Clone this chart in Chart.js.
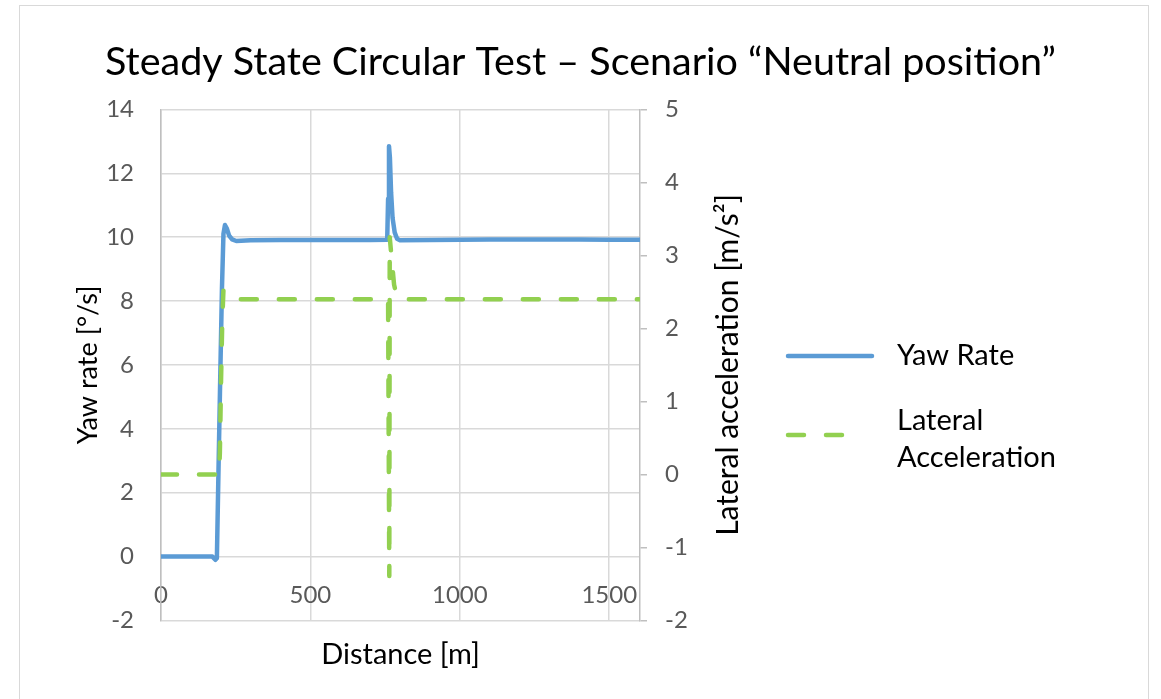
<!DOCTYPE html>
<html>
<head>
<meta charset="utf-8">
<script src="https://cdn.jsdelivr.net/npm/chart.js@4/dist/chart.umd.min.js"></script>
<style>
  html, body { margin: 0; padding: 0; background: #fff; }
  #wrap { position: relative; width: 1161px; height: 699px; overflow: hidden; }
  #frame { position: absolute; left: 19px; top: 5px; width: 1130px; height: 720px; border: 1.5px solid #d9d9d9; box-sizing: border-box; }
  canvas { position: absolute; left: 0; top: 0; }
</style>
</head>
<body>
<div id="wrap">
  <div id="frame"></div>
  <canvas id="chart" width="1161" height="699"></canvas>
</div>
<script>
// Yaw rate [°/s] against distance [m] (left axis)
const yawDistance = [0, 172, 182, 187, 192, 198, 204, 209, 214, 220, 228, 238, 252, 300, 400, 500, 600, 700, 757,
  760, 763, 766, 770, 775, 782, 790, 800, 900, 1000, 1100, 1200, 1300, 1400, 1500, 1603];
const yawRate = [0, 0, -0.1, -0.05, 2.5, 5.5, 8.4, 10.1, 10.38, 10.28, 10.05, 9.93, 9.88, 9.9, 9.91, 9.91, 9.91, 9.91, 9.92,
  11.2, 12.85, 12.5, 11.4, 10.6, 10.15, 9.95, 9.9, 9.91, 9.92, 9.93, 9.93, 9.93, 9.93, 9.92, 9.92];

// Lateral acceleration [m/s²] against distance [m] (right axis)
const latDistance = [0, 190, 194, 197, 201, 205, 209, 215, 225, 240, 250, 400, 600, 760, 764, 765.5, 772, 780, 788, 796,
  900, 1100, 1300, 1500, 1603];
const latAccel = [0, 0, -0.02, 0.3, 1.3, 2.1, 2.53, 2.5, 2.45, 2.41, 2.4, 2.4, 2.4, 2.4, -1.39, 3.25, 2.95, 2.6, 2.45, 2.4,
  2.4, 2.4, 2.4, 2.4, 2.4];

const xTicks = [0, 500, 1000, 1500];
const yTicks = [-2, 0, 2, 4, 6, 8, 10, 12, 14];
const y2Ticks = [-2, -1, 0, 1, 2, 3, 4, 5];

const seriesNames = ['Yaw Rate', 'Lateral Acceleration'];
const legendLines = [['Yaw Rate'], ['Lateral', 'Acceleration']];
const chartTitle = 'Steady State Circular Test \u2013 Scenario \u201cNeutral position\u201d';
const xTitle = 'Distance [m]';
const yTitle = 'Yaw rate [\u00b0/s]';
const y2Title = 'Lateral acceleration [m/s\u00b2]';

const toPoints = (xs, ys) => xs.map((x, i) => ({ x: x, y: ys[i] }));
const fixTicks = (list) => (scale) => { scale.ticks = list.map(v => ({ value: v })); };

const tickColor = '#595959';
const gridColor = '#d9d9d9';
const axisColor = '#bfbfbf';
const labelFont = { family: 'Lato', size: 24 };

// right axis title (reads bottom to top) and the legend
const extras = {
  id: 'extras',
  afterDraw(chart) {
    const ctx = chart.ctx;
    const area = chart.chartArea;
    ctx.save();
    ctx.fillStyle = '#000';
    ctx.font = '30px Lato';
    ctx.textAlign = 'center';
    ctx.textBaseline = 'middle';
    ctx.translate(area.right + 88, (area.top + area.bottom) / 2);
    ctx.rotate(-Math.PI / 2);
    ctx.fillText(y2Title, 0, 0);
    ctx.restore();

    const rows = [356, 435];
    chart.data.datasets.forEach((ds, i) => {
      const y = rows[i];
      const x0 = area.right + 148;
      ctx.save();
      ctx.strokeStyle = ds.borderColor;
      ctx.lineWidth = ds.borderWidth;
      ctx.lineCap = 'round';
      ctx.setLineDash(ds.borderDash || []);
      ctx.beginPath();
      ctx.moveTo(x0, y);
      ctx.lineTo(x0 + (ds.borderDash ? 62 : 84), y);
      ctx.stroke();
      ctx.restore();

      ctx.save();
      ctx.fillStyle = '#000';
      ctx.font = '29px Lato';
      ctx.textAlign = 'left';
      ctx.textBaseline = 'middle';
      const lines = legendLines[i];
      const lh = 37;
      const mid = y + (lines.length > 1 ? 4 : 0);
      lines.forEach((t, j) => {
        ctx.fillText(t, x0 + 109, mid + (j - (lines.length - 1) / 2) * lh);
      });
      ctx.restore();
    });
  }
};

new Chart(document.getElementById('chart'), {
  type: 'line',
  data: {
    datasets: [{
      label: seriesNames[0],
      data: toPoints(yawDistance, yawRate),
      yAxisID: 'y',
      borderColor: '#5b9bd5',
      borderWidth: 4.5,
      borderCapStyle: 'round',
      borderJoinStyle: 'round',
      pointRadius: 0,
      tension: 0,
      order: 1
    }, {
      label: seriesNames[1],
      data: toPoints(latDistance, latAccel),
      yAxisID: 'y2',
      borderColor: '#92d050',
      borderWidth: 4.5,
      borderDash: [16, 22],
      borderCapStyle: 'round',
      borderJoinStyle: 'round',
      pointRadius: 0,
      tension: 0,
      order: 0
    }]
  },
  options: {
    responsive: false,
    animation: false,
    layout: { padding: 0 },
    plugins: {
      legend: { display: false },
      tooltip: { enabled: false },
      title: {
        display: true,
        text: chartTitle,
        color: '#000',
        font: { family: 'Lato', size: 39.5, weight: 'normal' },
        padding: { top: 39, bottom: 23 }
      }
    },
    scales: {
      x: {
        type: 'linear',
        position: 'bottom',
        min: 0,
        max: 1603,
        afterBuildTicks: fixTicks(xTicks),
        afterFit: (s) => { s.height = 78.5; },
        ticks: {
          autoSkip: false,
          // labels sit inside the plot, just below the 0 line, as in the original
          mirror: true,
          padding: 11,
          maxRotation: 0,
          color: tickColor,
          font: labelFont,
          callback: (v) => String(v)
        },
        grid: { color: gridColor, lineWidth: 1.5, drawTicks: false },
        border: { display: false },
        title: {
          display: true,
          text: xTitle,
          color: '#000',
          font: { family: 'Lato', size: 29 },
          padding: { top: 0, bottom: 26.6 }
        }
      },
      y: {
        position: 'left',
        min: -2,
        max: 14,
        afterBuildTicks: fixTicks(yTicks),
        afterFit: (s) => { s.width = 161; },
        ticks: {
          autoSkip: false,
          padding: 27,
          color: tickColor,
          font: labelFont,
          callback: (v) => String(v)
        },
        grid: { color: gridColor, lineWidth: 1.5, drawTicks: false },
        border: { color: axisColor, width: 1.5 },
        title: {
          display: true,
          text: yTitle,
          color: '#000',
          font: { family: 'Lato', size: 27 },
          padding: { top: 71.8, bottom: 0 }
        }
      },
      y2: {
        position: 'right',
        min: -2,
        max: 5,
        afterBuildTicks: fixTicks(y2Ticks),
        afterFit: (s) => { s.width = 521; },
        ticks: {
          autoSkip: false,
          padding: 18,
          color: tickColor,
          font: labelFont,
          callback: (v) => String(v)
        },
        grid: { drawOnChartArea: false, color: axisColor, lineWidth: 1.5, tickLength: 7 },
        border: { color: axisColor, width: 1.5 }
      }
    }
  },
  plugins: [extras]
});
</script>
</body>
</html>
